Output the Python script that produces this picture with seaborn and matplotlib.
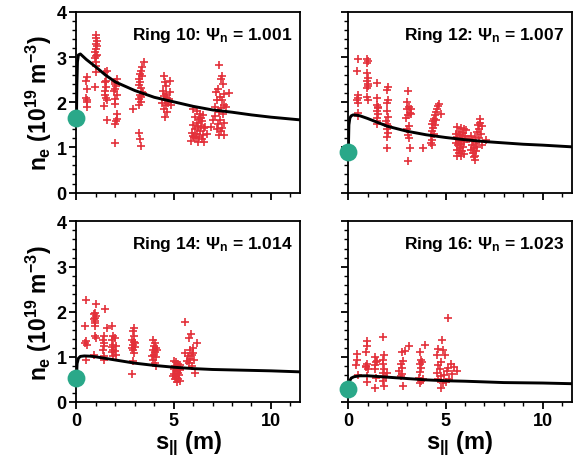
import numpy as np
import pandas as pd
import seaborn as sns
import matplotlib.pyplot as plt
from matplotlib.ticker import MultipleLocator

# measured points (s_par in m, n_e in 1e19 m^-3)
ring10_x = [0.53, 0.50, 0.55, 0.48, 0.55, 0.52, 0.55,
            1.02, 1.00, 1.05, 0.98, 1.04, 1.00, 0.97, 1.03, 1.00, 0.96, 1.02, 1.00, 0.98, 0.97,
            1.55, 1.45, 1.50, 1.45, 1.52, 1.48, 1.45, 1.50, 1.55, 1.42, 1.55,
            2.08, 2.00, 1.97, 2.05, 2.00, 1.95, 2.07, 2.00, 1.98, 2.10, 2.08, 2.00, 2.05, 2.00,
            2.90,
            3.45, 3.38, 3.30, 3.25, 3.35, 3.20, 3.28, 3.22, 3.30, 3.35, 3.25, 3.20, 3.30, 3.22, 3.20, 3.25, 3.30, 3.40, 3.32,
            4.50, 4.55, 4.62, 4.45, 4.60, 4.50, 4.68, 4.55, 4.72, 4.60, 4.50, 4.65, 4.55, 4.80, 4.80, 4.78, 4.85, 4.42,
            6.00, 6.20, 6.35, 6.50, 6.10, 6.30, 6.45, 6.20, 6.00, 6.40, 6.25, 6.55, 6.10, 6.35, 5.95, 6.20, 6.50, 6.00,
            6.30, 6.15, 6.45, 5.90, 6.25, 6.55, 6.05, 6.60, 6.70, 6.40,
            7.35, 7.50, 7.45, 7.55, 7.30, 7.60, 7.20, 7.40, 7.50, 7.25, 7.60, 7.10, 7.45, 7.70, 7.35, 7.55, 7.15, 7.40,
            7.60, 7.30, 7.50, 7.25, 7.45, 7.60, 7.35, 7.85, 7.00, 6.90]
ring10_y = [2.56, 2.48, 2.30, 2.09, 2.04, 2.00, 1.89,
            3.50, 3.42, 3.35, 3.30, 3.24, 3.19, 3.11, 3.05, 3.02, 2.98, 2.89, 2.81, 2.67, 2.33,
            2.70, 2.67, 2.48, 2.44, 2.33, 2.26, 2.15, 2.09, 2.04, 1.91, 1.61,
            2.52, 2.46, 2.41, 2.36, 2.30, 2.24, 2.16, 2.07, 1.96, 1.74, 1.64, 1.52, 1.59, 1.10,
            1.85,
            2.89, 2.78, 2.70, 2.63, 2.58, 2.52, 2.46, 2.39, 2.31, 2.22, 2.15, 2.07, 2.00, 1.94, 1.33, 1.19, 1.04, 2.20, 2.12,
            2.59, 2.44, 2.36, 2.26, 2.19, 2.13, 2.09, 2.04, 1.99, 1.93, 1.85, 1.78, 1.67, 2.48, 2.22, 2.07, 1.93, 1.99,
            1.85, 1.80, 1.75, 1.72, 1.68, 1.62, 1.58, 1.55, 1.50, 1.48, 1.45, 1.42, 1.40, 1.36, 1.33, 1.30, 1.28, 1.25,
            1.22, 1.20, 1.18, 1.15, 1.13, 1.12, 1.22, 1.45, 1.30, 1.65,
            2.83, 2.59, 2.52, 2.41, 2.30, 2.19, 2.22, 2.11, 2.06, 2.04, 1.94, 1.90, 1.87, 1.90, 1.79, 1.74, 1.70, 1.61,
            1.55, 1.52, 1.44, 1.40, 1.37, 1.27, 1.27, 2.20, 1.60, 1.45]

ring12_x = [0.50, 0.45, 0.48, 0.50, 0.45, 0.52, 0.48, 0.50,
            0.97, 1.00, 0.95, 0.98, 1.02, 0.95, 1.00, 1.03, 0.97, 0.95, 1.00,
            1.50, 1.48, 1.45, 1.52, 1.50, 1.55, 1.45, 1.50, 1.48, 1.55,
            2.05, 2.00, 2.02, 1.98, 2.00, 2.05, 1.95, 2.00, 2.03, 1.97, 2.05, 2.00, 2.00,
            3.05, 3.00, 3.10, 3.00, 3.15, 3.05, 2.98, 3.10, 3.00, 3.05, 3.10, 3.15, 3.05, 3.20, 3.25,
            3.85,
            4.65, 4.60, 4.55, 4.50, 4.45, 4.40, 4.35, 4.30, 4.35, 4.28, 4.25, 4.30, 4.25, 4.30, 4.75, 4.50, 4.45, 4.40,
            5.60, 5.80, 5.95, 5.70, 5.90, 5.55, 5.75, 6.00, 5.60, 5.85, 5.70, 5.95, 5.55, 5.80, 5.65, 5.90, 5.75,
            5.60, 5.85, 5.70, 5.95, 5.60, 5.80, 6.05, 6.10,
            6.75, 6.80, 6.65, 6.90, 6.70, 6.60, 6.85, 6.30, 6.50, 6.70, 6.40, 6.55, 6.35, 6.60, 6.45, 6.55, 6.40,
            6.50, 6.45, 6.50, 6.90, 7.10, 6.20, 6.30]
ring12_y = [2.96, 2.70, 2.17, 2.10, 2.04, 1.99, 1.76, 1.69,
            2.96, 2.91, 2.86, 2.65, 2.54, 2.47, 2.41, 2.36, 2.32, 2.11, 2.06,
            2.43, 2.10, 1.93, 1.87, 1.80, 1.73, 1.65, 1.58, 1.52, 1.90,
            2.33, 2.28, 2.04, 1.99, 1.80, 1.67, 1.59, 1.52, 1.47, 1.41, 1.32, 1.22, 0.99,
            2.26, 2.01, 1.89, 1.84, 1.76, 1.71, 1.65, 1.47, 1.41, 1.27, 1.21, 0.99, 0.69, 1.85, 1.75,
            0.99,
            1.96, 1.91, 1.84, 1.79, 1.71, 1.64, 1.58, 1.52, 1.43, 1.36, 1.28, 1.17, 1.10, 1.06, 1.73, 1.60, 1.50, 1.30,
            1.45, 1.42, 1.40, 1.35, 1.32, 1.30, 1.28, 1.25, 1.22, 1.20, 1.15, 1.12, 1.10, 1.08, 1.05, 1.02, 0.98,
            0.95, 0.92, 0.88, 0.85, 0.82, 0.80, 1.38, 1.18,
            1.62, 1.55, 1.50, 1.48, 1.40, 1.35, 1.30, 1.25, 1.22, 1.20, 1.15, 1.10, 1.05, 1.02, 0.98, 0.92, 0.88,
            0.82, 0.78, 0.72, 1.05, 1.17, 1.18, 0.95]

ring14_x = [0.48, 0.45, 0.50, 0.45, 0.52, 0.48,
            1.00, 0.95, 0.92, 0.98, 0.95, 0.92, 0.97, 0.95, 0.94, 0.98, 0.92, 0.95,
            1.45, 1.55, 1.40, 1.38, 1.42, 1.40, 1.38, 1.42, 1.40,
            1.85, 1.87, 1.85, 1.88, 1.85, 1.90, 1.85, 1.88, 2.00, 2.02, 2.00, 2.05,
            2.95, 2.90, 2.95, 2.88, 2.95, 2.90, 3.00, 2.92, 2.98, 2.90, 2.85, 3.00, 2.85,
            3.95, 4.05, 3.98, 4.10, 3.95, 4.05, 4.00, 4.10, 3.95, 4.05, 4.10, 4.15, 3.90,
            5.00, 5.10, 5.20, 5.30, 5.05, 5.25, 5.15, 5.00, 5.30, 5.10, 5.20, 5.00, 5.25, 5.10, 5.05, 5.20, 5.30,
            5.15, 5.35, 4.95,
            5.60,
            5.90, 5.80, 6.20, 5.85, 6.00, 5.75, 5.95, 6.05, 5.80, 5.95, 6.10, 5.70, 6.00, 5.85, 5.60]
ring14_y = [2.25, 1.68, 1.35, 1.31, 1.27, 0.94,
            2.17, 1.97, 1.94, 1.90, 1.86, 1.83, 1.75, 1.68, 1.46, 1.42, 1.05, 1.80,
            2.05, 1.64, 1.46, 1.38, 1.31, 1.24, 1.16, 1.02, 0.94,
            1.68, 1.47, 1.37, 1.27, 1.22, 1.16, 1.10, 1.02, 1.42, 1.24, 1.13, 1.05,
            1.64, 1.57, 1.46, 1.38, 1.33, 1.27, 1.22, 1.16, 1.09, 0.91, 0.61, 1.30, 1.20,
            1.38, 1.31, 1.24, 1.20, 1.16, 1.10, 1.05, 1.00, 0.94, 0.87, 0.80, 1.15, 1.02,
            0.91, 0.88, 0.85, 0.82, 0.80, 0.78, 0.75, 0.72, 0.70, 0.68, 0.65, 0.62, 0.60, 0.56, 0.52, 0.50, 0.46,
            0.44, 0.72, 0.58,
            1.77,
            1.50, 1.42, 1.31, 1.16, 1.09, 1.02, 1.05, 0.94, 0.87, 0.80, 0.65, 0.90, 1.20, 0.95, 1.08]

ring16_x = [0.43, 0.45, 0.42, 0.48,
            0.94, 0.98, 0.92, 0.95, 0.90, 1.00, 0.95, 0.98, 0.90,
            1.37, 1.40, 1.35, 1.38, 1.42, 1.35, 1.50,
            1.80, 1.82, 1.78, 1.80, 1.85, 1.78, 1.82, 1.80, 1.85, 1.95, 2.00,
            2.74, 2.80, 2.70, 2.78, 2.75, 2.70, 2.80, 2.90, 2.62,
            3.10,
            3.70, 3.75, 3.68, 3.72, 3.70, 3.65, 3.75, 3.70, 3.80, 3.85,
            3.95,
            4.80, 4.60, 4.85, 4.55, 4.75, 4.60, 4.70, 4.55, 4.75, 4.60, 4.85, 4.75, 4.95, 4.90,
            5.14,
            5.30, 5.45, 5.60, 5.35, 5.10, 5.20, 5.00, 5.15]
ring16_y = [1.07, 0.92, 0.81, 0.60,
            1.34, 1.25, 1.10, 0.84, 0.77, 0.73, 0.58, 0.45, 0.80,
            0.99, 0.88, 0.81, 0.73, 0.54, 0.32, 0.90,
            1.44, 1.03, 0.92, 0.84, 0.73, 0.64, 0.58, 0.47, 0.36, 0.55, 0.65,
            1.10, 0.90, 0.84, 0.75, 0.62, 0.58, 0.36, 1.12, 0.68,
            1.25,
            1.10, 0.92, 0.84, 0.75, 0.66, 0.54, 0.47, 0.43, 0.88, 0.50,
            1.27,
            1.37, 1.18, 1.16, 1.03, 0.88, 0.81, 0.73, 0.64, 0.58, 0.51, 0.43, 0.32, 1.05, 0.60,
            1.87,
            0.84, 0.77, 0.69, 0.62, 0.68, 0.50, 0.45, 0.75]

# model profiles
ring10_sx = [0, 0.02, 0.05, 0.1, 0.2, 0.5, 1, 1.5, 2, 3, 4, 5, 6, 7, 8, 9, 10, 12]
ring10_ne = [1.65, 2.4, 2.9, 3.05, 3.07, 2.95, 2.78, 2.6, 2.45, 2.26, 2.11, 2.01, 1.91, 1.83, 1.78, 1.72, 1.67, 1.59]
ring12_sx = [0, 0.03, 0.08, 0.15, 0.25, 0.4, 0.6, 1, 2, 3, 4, 5, 6, 7, 8, 9, 10, 12]
ring12_ne = [0.9, 1.5, 1.65, 1.70, 1.72, 1.715, 1.70, 1.64, 1.47, 1.36, 1.28, 1.22, 1.17, 1.13, 1.10, 1.07, 1.05, 1.0]
ring14_sx = [0, 0.03, 0.1, 0.2, 0.4, 0.7, 1, 2, 3, 4, 5, 6, 7, 8, 9, 10, 12]
ring14_ne = [0.54, 0.85, 0.97, 1.01, 1.02, 1.015, 1.0, 0.93, 0.86, 0.81, 0.77, 0.74, 0.72, 0.71, 0.70, 0.69, 0.66]
ring16_sx = [0, 0.05, 0.15, 0.3, 0.6, 1, 2, 3, 4, 5, 6, 8, 10, 12]
ring16_ne = [0.28, 0.45, 0.53, 0.56, 0.58, 0.58, 0.55, 0.52, 0.49, 0.47, 0.46, 0.43, 0.42, 0.40]

# target value at s=0
ring_target = [1.65, 0.90, 0.54, 0.28]
ring_names = ["Ring 10", "Ring 12", "Ring 14", "Ring 16"]
ring_psi = ["1.001", "1.007", "1.014", "1.023"]

red = "#e3303a"
teal = "#2aa889"

sns.set_theme(style="ticks", rc={"text.color": "black", "axes.labelcolor": "black",
                                 "xtick.color": "black", "ytick.color": "black",
                                 "axes.edgecolor": "black"})
plt.rcParams["font.family"] = ["Liberation Sans", "DejaVu Sans"]
plt.rcParams["font.weight"] = "bold"
plt.rcParams["mathtext.fontset"] = "custom"
plt.rcParams["mathtext.rm"] = "Liberation Sans:bold"
plt.rcParams["mathtext.it"] = "Liberation Sans:bold"
plt.rcParams["mathtext.bf"] = "Liberation Sans:bold"

fig, axes = plt.subplots(2, 2, figsize=(5.73, 4.64), dpi=100, sharex=True, sharey=True)
fig.subplots_adjust(left=0.1335, right=0.998, top=0.972, bottom=0.1315, wspace=0.216, hspace=0.16)

points = [(ring10_x, ring10_y), (ring12_x, ring12_y), (ring14_x, ring14_y), (ring16_x, ring16_y)]
curves = [(ring10_sx, ring10_ne), (ring12_sx, ring12_ne), (ring14_sx, ring14_ne), (ring16_sx, ring16_ne)]

for i, ax in enumerate(axes.flat):
    px, py = points[i]
    cx, cy = curves[i]
    sns.scatterplot(x=px, y=py, ax=ax, marker="+", color=red, s=34, linewidth=1.2, zorder=2)
    sns.lineplot(x=cx, y=cy, ax=ax, color="black", linewidth=2.1, sort=False, estimator=None, zorder=3)
    ax.scatter([0], [ring_target[i]], s=165, color=teal, zorder=5, clip_on=False, linewidths=0)

    ax.text(0.965, 0.93, f"{ring_names[i]}: " + r"$\Psi_n$" + f" = {ring_psi[i]}",
            transform=ax.transAxes, ha="right", va="top", fontsize=12.5, fontweight="bold")

    ax.set_xlim(0, 11.5)
    ax.set_ylim(0, 4)
    ax.xaxis.set_major_locator(MultipleLocator(5))
    ax.xaxis.set_minor_locator(MultipleLocator(1))
    ax.yaxis.set_major_locator(MultipleLocator(1))
    ax.yaxis.set_minor_locator(MultipleLocator(0.2))
    ax.tick_params(which="major", direction="out", length=5, width=1.3, labelsize=13, pad=2)
    ax.tick_params(which="minor", direction="out", length=3, width=1.0)
    for lab in ax.get_xticklabels() + ax.get_yticklabels():
        lab.set_fontweight("bold")
    for sp in ax.spines.values():
        sp.set_linewidth(1.3)
        sp.set_visible(True)
    ax.set_xlabel("")
    ax.set_ylabel("")

for ax in axes[:, 0]:
    ax.set_ylabel("$n_e$ (10$^{19}$ m$^{-3}$)", fontsize=16.5, fontweight="bold", labelpad=2)
for ax in axes[1, :]:
    ax.set_xlabel("$s_{||}$ (m)", fontsize=17, fontweight="bold", labelpad=0)

fig.savefig("out.png", dpi=100)
